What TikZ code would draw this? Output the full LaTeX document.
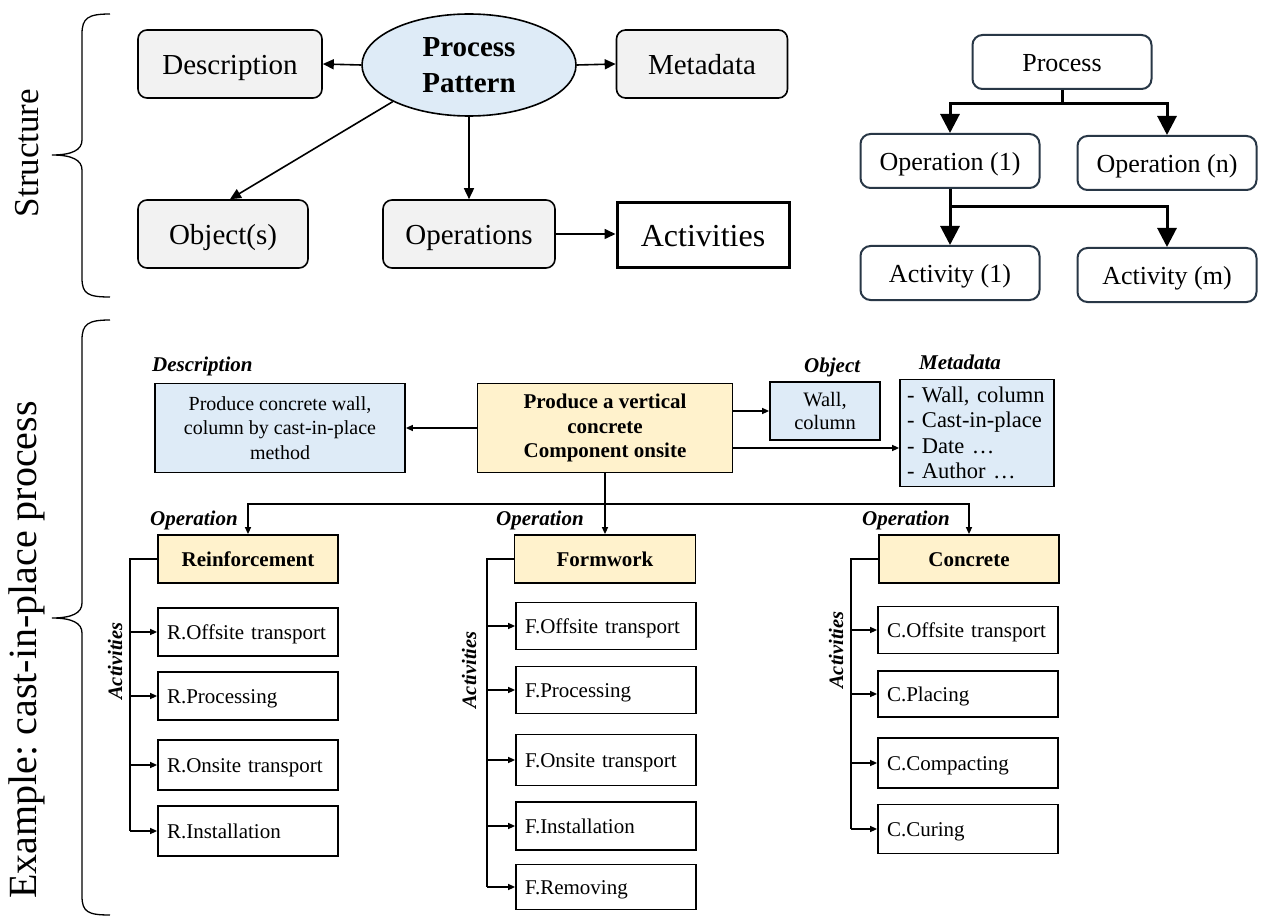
\documentclass[tikz,border=0pt]{standalone}
\usepackage{fontspec}
\setmainfont{Liberation Serif}
\usetikzlibrary{arrows.meta,shapes.geometric}
\definecolor{boxgray}{RGB}{242,242,242}
\definecolor{boxblue}{RGB}{222,235,247}
\definecolor{boxyellow}{RGB}{255,242,204}
\definecolor{treeline}{RGB}{40,55,70}
\frenchspacing
\tikzset{
  sbox/.style={draw, rounded corners=9, line width=1.6, fill=boxgray, inner sep=0, text height=23.8pt, text depth=3.5pt, font=\fontsize{29}{34}\selectfont},
  tbox/.style={draw=treeline, rounded corners=10, line width=2, fill=white, inner sep=0, text height=21.3pt, text depth=3.1pt, minimum width=179, minimum height=54, font=\fontsize{26}{30}\selectfont},
  sarr/.style={line width=1.6, -{Triangle[length=11,width=10]}},
  tarr/.style={line width=3, -{Triangle[length=19,width=19]}},
  barr/.style={line width=1.5, -{Triangle[length=7,width=6]}},
  bline/.style={line width=1.5},
  bbox/.style={draw, line width=1.8, inner sep=0, font=\fontsize{20}{24.5}\selectfont, align=center},
  abox/.style={draw, line width=1.8, inner xsep=9, inner ysep=0, text height=17.2pt, text depth=2.5pt, text width=162, align=left, font=\fontsize{21}{24}\selectfont},
  obox/.style={draw, line width=1.8, inner sep=0, text height=17.2pt, text depth=2.5pt, fill=boxyellow, minimum height=48, font=\fontsize{21}{24}\selectfont\bfseries},
  lab/.style={font=\fontsize{21}{24}\selectfont\bfseries\itshape, inner sep=0, anchor=west},
  vlab/.style={font=\fontsize{20.5}{24}\selectfont\bfseries\itshape, inner sep=0, rotate=90},
  brace/.style={line width=1.3},
}
\begin{document}
\begin{tikzpicture}[x=1pt,y=-1pt]
\useasboundingbox (0,0) rectangle (1261,920);
\fill[white] (0,0) rectangle (1261,920);

% ---------------- Structure brace ----------------
\draw[brace] (110,14) .. controls (88,14) and (82,18) .. (82,34) -- (82,140)
  .. controls (82,150) and (72,155) .. (52,155)
  .. controls (72,155) and (82,160) .. (82,170) -- (82,278)
  .. controls (82,294) and (88,297) .. (110,297);
\node[rotate=90, font=\fontsize{35}{40}\selectfont, inner sep=0] (tstruct) at (27,153) {Structure};

% ---------------- Structure diagram ----------------
\node[sbox, minimum width=184, minimum height=68] (sdesc) at (230,64) {Description};
\node[draw, ellipse, line width=1.6, fill=boxblue, minimum width=214, minimum height=102, inner sep=0,
      align=center, font=\fontsize{29}{36}\selectfont\bfseries] (spp) at (469,65) {Process\\Pattern};
\node[sbox, minimum width=171, minimum height=68] (smeta) at (702,64) {Metadata};
\node[sbox, minimum width=170, minimum height=68] (sobj) at (223,234) {Object(s)};
\node[sbox, minimum width=172, minimum height=68] (sops) at (469,234) {Operations};
\node[draw, line width=3, fill=white, minimum width=172, minimum height=64, inner sep=0, text height=26.2pt, text depth=3.8pt,
      font=\fontsize{32}{36}\selectfont] (sact) at (703,235) {Activities};

\draw[sarr] (spp.west) -- (sdesc.east);
\draw[sarr] (spp.east) -- (smeta.west);
\draw[sarr] (spp.south west) -- ([xshift=7]sobj.north);
\draw[sarr] (spp.south) -- (sops.north);
\draw[sarr] (sops.east) -- (sops.east -| sact.west);

% ---------------- Right tree ----------------
\node[tbox] (tproc) at (1062,62) {Process};
\node[tbox] (top1) at (950,161) {Operation (1)};
\node[tbox] (topn) at (1167,163) {Operation (n)};
\node[tbox] (tact1) at (950,273) {Activity (1)};
\node[tbox] (tactm) at (1167,275) {Activity (m)};
\coordinate (tj1) at (1062,104);
\coordinate (tj2) at (950,207);
\draw[line width=3] (tproc.south) -- (tj1);
\draw[tarr] (tj1) -| (top1.north);
\draw[tarr] (tj1) -| (topn.north);
\draw[line width=3] (top1.south) -- (tj2);
\draw[tarr] (tj2) -- (tact1.north);
\draw[tarr] (tj2) -| (tactm.north);

% ---------------- Example brace ----------------
\draw[brace] (110,320) .. controls (88,320) and (82,324) .. (82,340) -- (82,603)
  .. controls (82,613) and (72,618) .. (52,618)
  .. controls (72,618) and (82,623) .. (82,633) -- (82,896)
  .. controls (82,912) and (88,915) .. (110,915);
\node[rotate=90, font=\fontsize{40}{46}\selectfont, inner sep=0] (texample) at (27,650) {Example: cast-in-place process};

% ---------------- Example top row ----------------
\node[bbox, fill=boxyellow, minimum width=255, minimum height=89, font=\fontsize{21}{24.5}\selectfont\bfseries] (emain) at (605,428)
  {Produce a vertical\\concrete\\Component onsite};
\node[bbox, fill=boxblue, minimum width=250, minimum height=89] (edesc) at (280,428)
  {Produce concrete wall,\\column by cast-in-place\\method};
\node[bbox, fill=boxblue, minimum width=110, minimum height=58, font=\fontsize{20.5}{23}\selectfont] (eobj) at (825,411) {Wall,\\column};
\node[draw, line width=1.8, fill=boxblue, minimum width=154, minimum height=107, inner sep=0,
      text width=140, align=left, font=\fontsize{22.5}{25.5}\selectfont] (emeta) at (977,433)
  {- Wall, column\\- Cast-in-place\\- Date \dots\\- Author \dots};

\node[lab] (ldesc) at (152,366) {Description};
\node[lab] (lobj) at (804,367) {Object};
\node[lab] (lmeta) at (919,362) {Metadata};

\draw[barr] (emain.west) -- (edesc.east);
\draw[barr] (emain.east |- eobj.west) -- (eobj.west);
\coordinate (em2) at (733,448);
\draw[barr] (em2) -- (em2 -| emeta.west);

% ---------------- Operations ----------------
\node[obox, minimum width=180] (oreinf) at (248,559) {Reinforcement};
\node[obox, minimum width=181] (oform) at (605,559) {Formwork};
\node[obox, minimum width=180] (oconc) at (969,559) {Concrete};

\coordinate (ebus) at (605,504);
\draw[bline] (emain.south) -- (ebus);
\draw[barr] (ebus) -- (oform.north);
\draw[barr] (ebus) -| (oreinf.north);
\draw[barr] (ebus) -| (oconc.north);

\node[lab] (lop1) at (150,520) {Operation};
\node[lab] (lop2) at (496,520) {Operation};
\node[lab] (lop3) at (862,520) {Operation};

% ---------------- Reinforcement activities ----------------
\node[abox, minimum height=48] (r1) at (248,632) {R.Offsite transport};
\node[abox, minimum height=48] (r2) at (248,696) {R.Processing};
\node[abox, minimum height=50] (r3) at (248,765) {R.Onsite transport};
\node[abox, minimum height=50] (r4) at (248,831) {R.Installation};
\coordinate (rb) at (130,559);
\draw[bline] (oreinf.west) -- (rb) -- (rb |- r4.west);
\foreach \n in {r1,r2,r3,r4} \draw[barr] (rb |- \n.west) -- (\n.west);
\node[vlab] (lra) at (115,661) {Activities};

% ---------------- Formwork activities ----------------
\node[abox, minimum height=47] (f1) at (606,626) {F.Offsite transport};
\node[abox, minimum height=47] (f2) at (606,690) {F.Processing};
\node[abox, minimum height=51] (f3) at (606,760) {F.Onsite transport};
\node[abox, minimum height=48] (f4) at (606,826) {F.Installation};
\node[abox, minimum height=45] (f5) at (606,887) {F.Removing};
\coordinate (fb) at (487,559);
\draw[bline] (oform.west) -- (fb) -- (fb |- f5.west);
\foreach \n in {f1,f2,f3,f4,f5} \draw[barr] (fb |- \n.west) -- (\n.west);
\node[vlab] (lfa) at (469,670) {Activities};

% ---------------- Concrete activities ----------------
\node[abox, minimum height=47] (c1) at (968,630) {C.Offsite transport};
\node[abox, minimum height=46] (c2) at (968,694) {C.Placing};
\node[abox, minimum height=50] (c3) at (968,763) {C.Compacting};
\node[abox, minimum height=49] (c4) at (968,829) {C.Curing};
\coordinate (cb) at (851,559);
\draw[bline] (oconc.west) -- (cb) -- (cb |- c4.west);
\foreach \n in {c1,c2,c3,c4} \draw[barr] (cb |- \n.west) -- (\n.west);
\node[vlab] (lca) at (836,650) {Activities};
\end{tikzpicture}
\end{document}
